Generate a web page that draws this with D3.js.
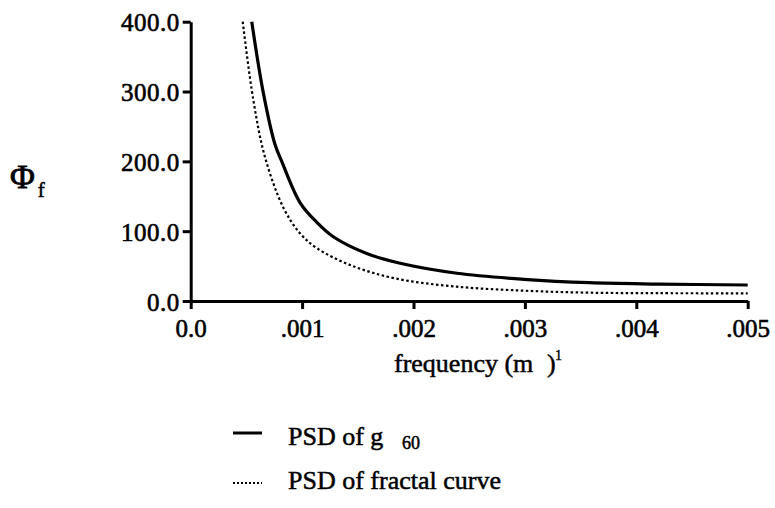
<!DOCTYPE html>
<html>
<head>
<meta charset="utf-8">
<script src="https://cdn.jsdelivr.net/npm/d3@7"></script>
<style>
  html, body { margin: 0; padding: 0; background: #fff; }
  svg { display: block; }
  text { font-family: "Liberation Serif", "DejaVu Serif", serif; fill: #000; }
</style>
</head>
<body>
<svg id="chart" width="775" height="508"></svg>
<script>
// Power spectral density of g60 (solid) and of the fractal curve (dotted)
const g60Freq = [0.000548, 0.000652, 0.000757, 0.000817, 0.000981, 0.00113, 0.00128, 0.00158, 0.00188, 0.00239, 0.00299, 0.00358, 0.0042, 0.005];
const g60Psd  = [400, 298, 224, 200, 141, 113, 92, 68, 54, 39.7, 31.1, 26.2, 24.3, 22.9];

const fractalFreq = [0.000467, 0.000562, 0.000667, 0.000831, 0.000981, 0.00113, 0.00143, 0.00183, 0.00239, 0.00299, 0.00358, 0.0042, 0.005];
const fractalPsd  = [400, 288, 206, 134, 97, 76, 51.6, 32.5, 20.5, 14.8, 11.9, 11.2, 11];

const xTicks = [0, 0.001, 0.002, 0.003, 0.004, 0.005];
const xTickLabels = ["0.0", ".001", ".002", ".003", ".004", ".005"];
const yTicks = [0, 100, 200, 300, 400];
const yTickLabels = ["0.0", "100.0", "200.0", "300.0", "400.0"];

const legendLabels = ["PSD of g", "PSD of fractal curve"];

const serif = "'Liberation Serif', 'DejaVu Serif', serif";
const svg = d3.select("#chart");
const plot = { left: 190.7, right: 747.7, top: 21.7, bottom: 301 };

const x = d3.scaleLinear().domain([0, 0.005]).range([plot.left, plot.right]);
const y = d3.scaleLinear().domain([0, 400]).range([plot.bottom, plot.top]);

// axes
const xAxis = d3.axisBottom(x).tickValues(xTicks).tickSize(8).tickSizeOuter(0)
  .tickFormat((d, i) => xTickLabels[i]).tickPadding(10);
const yAxis = d3.axisLeft(y).tickValues(yTicks).tickSize(8).tickSizeOuter(0)
  .tickFormat((d, i) => yTickLabels[i]).tickPadding(3);

const gx = svg.append("g").attr("transform", `translate(0,${plot.bottom})`).call(xAxis);
const gy = svg.append("g").attr("transform", `translate(${plot.left},0)`).call(yAxis);

[gx, gy].forEach(g => {
  g.attr("font-family", serif);
  g.select(".domain").attr("stroke", "#000").attr("stroke-width", 3);
  g.selectAll(".tick line").attr("stroke", "#000").attr("stroke-width", 3);
  g.selectAll(".tick text")
    .style("font-family", serif).style("font-size", "25px")
    .attr("fill", "#000").attr("stroke", "#000").attr("stroke-width", 0.6);
});
gy.selectAll(".tick text").attr("dy", "0.36em").attr("letter-spacing", 0.5);
gx.selectAll(".tick text").attr("dy", "0.72em");

// curves
const line = d3.line().x(d => x(d[0])).y(d => y(d[1])).curve(d3.curveCatmullRom.alpha(0.5));
const g60Data = g60Freq.map((f, i) => [f, g60Psd[i]]);
const fractalData = fractalFreq.map((f, i) => [f, fractalPsd[i]]);

svg.append("path").datum(fractalData).attr("d", line)
  .attr("fill", "none").attr("stroke", "#000").attr("stroke-width", 2.2)
  .attr("stroke-dasharray", "2.5,2.5");
svg.append("path").datum(g60Data).attr("d", line)
  .attr("fill", "none").attr("stroke", "#000").attr("stroke-width", 3.2);

// y-axis title
const yTitle = svg.append("text").attr("x", 10).attr("y", 188)
  .style("font-size", "34px").attr("stroke", "#000").attr("stroke-width", 0.8);
yTitle.append("tspan").text("Φ");
yTitle.append("tspan").style("font-size", "21px").attr("dx", 3).attr("dy", 9)
  .attr("stroke-width", 0.5).text("f");

// x-axis title: frequency (m^-1)
svg.append("text").attr("x", 394).attr("y", 372)
  .style("font-size", "26px").attr("stroke", "#000").attr("stroke-width", 0.5)
  .text("frequency (m");
svg.append("text").attr("x", 547).attr("y", 372)
  .style("font-size", "26px").attr("stroke", "#000").attr("stroke-width", 0.5)
  .text(")");
svg.append("text").attr("x", 555).attr("y", 360)
  .style("font-size", "14px").attr("stroke", "#000").attr("stroke-width", 0.4)
  .text("1");

// legend
const legend = svg.append("g");
const rows = [
  { y: 433, dash: null, width: 3, base: 445 },
  { y: 483, dash: "2,2", width: 2, base: 489 }
];
rows.forEach((r, i) => {
  legend.append("line").attr("x1", 233).attr("x2", 262).attr("y1", r.y).attr("y2", r.y)
    .attr("stroke", "#000").attr("stroke-width", r.width)
    .attr("stroke-dasharray", r.dash);
  const t = legend.append("text").attr("x", 288).attr("y", r.base)
    .style("font-size", "26px").attr("stroke", "#000").attr("stroke-width", 0.5);
  t.append("tspan").text(legendLabels[i]);
  if (i === 0) {
    t.append("tspan").attr("x", 402).attr("dy", 4).style("font-size", "18px").text("60");
  }
});
</script>
</body>
</html>
